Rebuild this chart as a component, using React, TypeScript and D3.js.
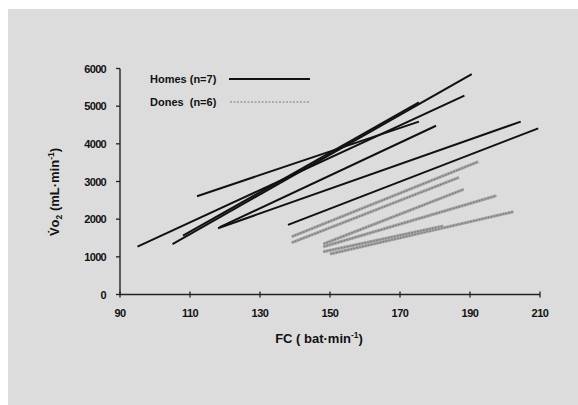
import React from "react";
import * as d3 from "d3";

// FC (bat/min) and VO2 (mL/min) end points of each individual regression line
const homesFC1 = [95, 105, 108, 112, 118, 118.5, 138];
const homesVO1 = [1270, 1340, 1560, 2610, 1760, 1790, 1850];
const homesFC2 = [188.4, 190.5, 175.4, 175.4, 204.5, 180.3, 209.5];
const homesVO2 = [5280, 5850, 5100, 4590, 4590, 4480, 4410];

const donesFC1 = [139.1, 139.1, 148.1, 148.1, 150, 148.1];
const donesVO1 = [1534, 1375, 1341, 1269, 1075, 1136];
const donesFC2 = [192.4, 186.9, 188.2, 197.5, 202.4, 182.4];
const donesVO2 = [3525, 3111, 2793, 2623, 2198, 1818];

const xTicks = [90, 110, 130, 150, 170, 190, 210];
const yTicks = [0, 1000, 2000, 3000, 4000, 5000, 6000];
const legendLabels = ["Homes (n=7)", "Dones  (n=6)"];

const W = 578;
const H = 405;
const font = "'Liberation Sans', Arial, Helvetica, sans-serif";

export default function App() {
  const x = d3.scaleLinear().domain([90, 210]).range([120, 540]);
  const y = d3.scaleLinear().domain([0, 6000]).range([294.5, 68.5]);
  const line = d3
    .line<[number, number]>()
    .x((d) => x(d[0]))
    .y((d) => y(d[1]));

  const homes = homesFC1.map((f, i) => [
    [f, homesVO1[i]],
    [homesFC2[i], homesVO2[i]],
  ]) as [number, number][][];
  const dones = donesFC1.map((f, i) => [
    [f, donesVO1[i]],
    [donesFC2[i], donesVO2[i]],
  ]) as [number, number][][];

  return (
    <svg
      width={W}
      height={H}
      style={{ position: "absolute", left: 0, top: 0, display: "block" }}
      fontFamily={font}
    >
      <rect x={0} y={0} width={W} height={H} fill="#ffffff" />
      <rect x={8} y={9} width={W - 8} height={H - 9} fill="#dcdcdc" />

      {/* axes */}
      <line x1={x(90)} x2={x(210)} y1={y(0)} y2={y(0)} stroke="#222" strokeWidth={1.4} />
      <line x1={x(90)} x2={x(90)} y1={y(0)} y2={y(6000)} stroke="#222" strokeWidth={1.4} />
      {xTicks.map((t) => (
        <g key={"x" + t}>
          <line x1={x(t)} x2={x(t)} y1={y(0) - 3} y2={y(0) + 3} stroke="#222" strokeWidth={1.3} />
          <text
            x={x(t)}
            y={316.5}
            textAnchor="middle"
            fontSize={11}
            fontWeight="bold"
            letterSpacing={-0.5}
            fill="#111"
          >
            {t}
          </text>
        </g>
      ))}
      {yTicks.map((t) => (
        <g key={"y" + t}>
          <line x1={x(90) - 4} x2={x(90)} y1={y(t)} y2={y(t)} stroke="#222" strokeWidth={1.3} />
          <text
            x={106}
            y={y(t) + 4}
            textAnchor="end"
            fontSize={11}
            fontWeight="bold"
            letterSpacing={-0.7}
            fill="#111"
          >
            {t}
          </text>
        </g>
      ))}

      {/* axis titles */}
      <text x={319} y={342.5} textAnchor="middle" fontSize={13} fontWeight="bold" fill="#111">
        FC ( bat·min
        <tspan fontSize={8.5} dy={-5}>-1</tspan>
        <tspan dy={5}>)</tspan>
      </text>
      <text
        transform={`translate(58.5,192) rotate(-90)`}
        textAnchor="middle"
        fontSize={13}
        fontWeight="bold"
        fill="#111"
      >
        V̇o
        <tspan fontSize={8.5} dy={3}>2</tspan>
        <tspan dy={-3}> (mL·min</tspan>
        <tspan fontSize={8.5} dy={-5}>-1</tspan>
        <tspan dy={5}>)</tspan>
      </text>

      {/* Dones lines */}
      {dones.map((d, i) => (
        <g key={"d" + i}>
          <path d={line(d) || ""} stroke="#a4a4a4" strokeWidth={3} fill="none" />
          <path
            d={line(d) || ""}
            stroke="#777"
            strokeWidth={1.2}
            strokeDasharray="1.5 1.5"
            fill="none"
          />
        </g>
      ))}

      {/* Homes lines */}
      {homes.map((d, i) => (
        <path key={"h" + i} d={line(d) || ""} stroke="#111" strokeWidth={2} fill="none" />
      ))}

      {/* legend */}
      <text x={150} y={82.5} fontSize={11} fontWeight="bold" fill="#111">
        {legendLabels[0]}
      </text>
      <line x1={229} x2={310} y1={79} y2={79} stroke="#111" strokeWidth={2} />
      <text x={150} y={105.5} fontSize={11} fontWeight="bold" fill="#111" style={{ whiteSpace: "pre" }}>
        {legendLabels[1]}
      </text>
      <line
        x1={230}
        x2={310}
        y1={102}
        y2={102}
        stroke="#7a7a7a"
        strokeWidth={1}
        strokeDasharray="2 1.5"
      />
    </svg>
  );
}
